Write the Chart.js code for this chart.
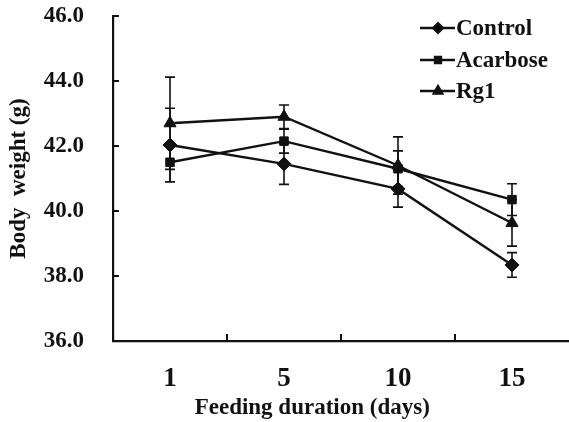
<!DOCTYPE html>
<html>
<head>
<meta charset="utf-8">
<script src="https://cdn.jsdelivr.net/npm/chart.js@4"></script>
<style>
  html, body { margin: 0; padding: 0; background: #fff; }
  canvas { display: block; }
</style>
</head>
<body>
<canvas id="chart" width="569" height="422"></canvas>
<script>
// data
const days = ['1', '5', '10', '15'];
const control = [42.03, 41.45, 40.68, 38.34];
const controlErr = [1.13, 0.63, 0.56, 0.38];
const acarbose = [41.50, 42.15, 41.30, 40.35];
const acarboseErr = [0.60, 0.37, 0.55, 0.49];
const rg1 = [42.70, 42.90, 41.40, 39.63];
const rg1Err = [1.42, 0.36, 0.88, 0.71];

const FONT = '"Liberation Serif", "Times New Roman", serif';
const INK = '#111';

// error bars + inward axis ticks
const extras = {
    id: 'extras',
    beforeDatasetsDraw(chart) {
        const ctx = chart.ctx;
        const x = chart.scales.x, y = chart.scales.y;
        ctx.save();
        ctx.strokeStyle = INK;
        ctx.lineWidth = 1.6;
        chart.data.datasets.forEach(ds => {
            ds.data.forEach((v, i) => {
                const px = x.getPixelForValue(i);
                const top = y.getPixelForValue(v + ds.err[i]);
                const bot = y.getPixelForValue(v - ds.err[i]);
                ctx.beginPath();
                ctx.moveTo(px, top); ctx.lineTo(px, bot);
                ctx.moveTo(px - 5, top); ctx.lineTo(px + 5, top);
                ctx.moveTo(px - 5, bot); ctx.lineTo(px + 5, bot);
                ctx.stroke();
            });
        });
        // ticks pointing into the plot
        ctx.lineWidth = 2;
        const left = chart.chartArea.left, bottom = chart.chartArea.bottom;
        y.ticks.forEach(t => {
            const py = y.getPixelForValue(t.value);
            ctx.beginPath();
            ctx.moveTo(left, py); ctx.lineTo(left + 6, py);
            ctx.stroke();
        });
        for (let i = 0; i < days.length - 1; i++) {
            const px = (x.getPixelForValue(i) + x.getPixelForValue(i + 1)) / 2;
            ctx.beginPath();
            ctx.moveTo(px, bottom); ctx.lineTo(px, bottom - 7);
            ctx.stroke();
        }
        ctx.restore();
    },
    afterDraw(chart) {
        // legend: line with marker, then label
        const ctx = chart.ctx;
        const rows = [28, 60, 91];
        ctx.save();
        chart.data.datasets.forEach((ds, i) => {
            const yy = rows[i];
            ctx.strokeStyle = INK;
            ctx.lineWidth = 2.4;
            ctx.beginPath();
            ctx.moveTo(420, yy); ctx.lineTo(455, yy);
            ctx.stroke();
            Chart.helpers.drawPoint(ctx, {
                pointStyle: ds.pointStyle, radius: ds.pointRadius * 0.7,
                rotation: 0, borderWidth: 1
            }, 438, yy);
            ctx.fillStyle = INK;
            ctx.font = 'bold 23px ' + FONT;
            ctx.textBaseline = 'middle';
            ctx.textAlign = 'left';
            ctx.fillText(ds.label, 456, yy + 1);
        });
        ctx.restore();
    }
};

function series(label, data, err, style, radius) {
    return {
        label: label,
        data: data,
        err: err,
        borderColor: INK,
        backgroundColor: INK,
        borderWidth: 2.4,
        pointStyle: style,
        pointRadius: radius,
        pointBackgroundColor: INK,
        pointBorderColor: INK,
        pointBorderWidth: 1,
        tension: 0
    };
}

new Chart(document.getElementById('chart'), {
    type: 'line',
    data: {
        labels: days,
        datasets: [
            series('Control', control, controlErr, 'rectRot', 7),
            series('Acarbose', acarbose, acarboseErr, 'rect', 6),
            series('Rg1', rg1, rg1Err, 'triangle', 7)
        ]
    },
    options: {
        responsive: false,
        animation: false,
        layout: { autoPadding: false, padding: { top: 16, right: -1, left: 0, bottom: 0 } },
        plugins: { legend: { display: false }, tooltip: { enabled: false } },
        scales: {
            x: {
                offset: true,
                grid: { display: false, drawTicks: false },
                border: { display: true, color: INK, width: 2.2 },
                ticks: {
                    color: INK, padding: 22,
                    font: { family: FONT, size: 27, weight: 'bold' }
                },
                title: {
                    // trailing spaces nudge the centred title left, as in the figure
                    display: true, text: 'Feeding duration (days)          ', color: INK,
                    font: { family: FONT, size: 23, weight: 'bold', lineHeight: 1 },
                    padding: { top: 0, bottom: 2 }
                },
                afterFit(scale) {
                    scale.height = 81;
                    scale.paddingLeft = 0;
                    scale.paddingRight = 0;
                }
            },
            y: {
                min: 36, max: 46,
                grid: { display: false, drawTicks: false },
                border: { display: true, color: INK, width: 2.2 },
                ticks: {
                    stepSize: 2, color: INK, padding: 29,
                    font: { family: FONT, size: 23, weight: 'bold' },
                    callback: v => v.toFixed(1)
                },
                title: {
                    display: true, text: 'Body  weight (g)', color: INK,
                    font: { family: FONT, size: 23, weight: 'bold', lineHeight: 1 },
                    padding: { top: 8, bottom: 0 }
                },
                afterFit(scale) {
                    scale.width = 113;
                    scale.paddingTop = 0;
                    scale.paddingBottom = 0;
                }
            }
        }
    },
    plugins: [extras]
});
</script>
</body>
</html>
